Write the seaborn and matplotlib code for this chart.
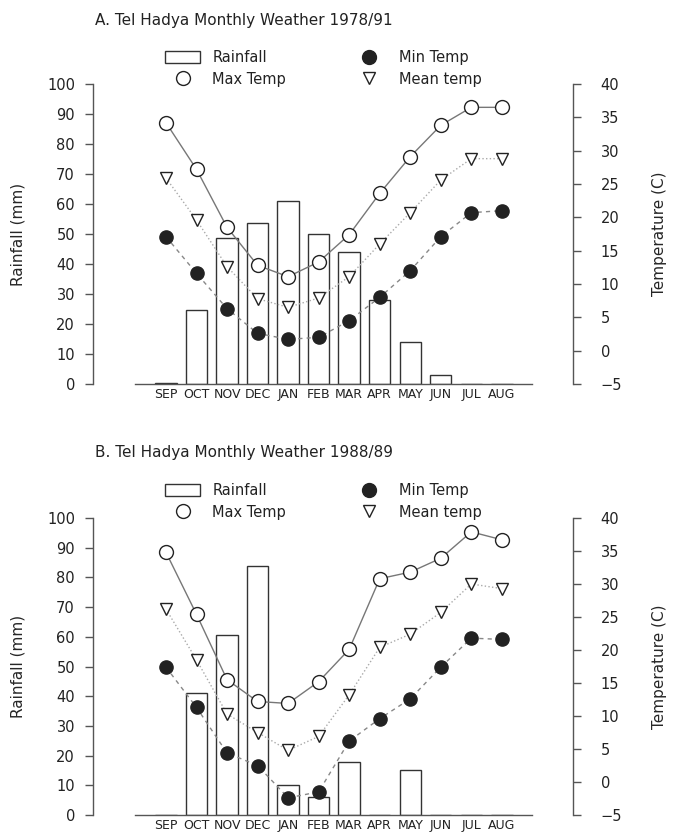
import matplotlib
matplotlib.use("Agg")
import matplotlib.pyplot as plt
from matplotlib.patches import Patch
from matplotlib.lines import Line2D
import seaborn as sns
import numpy as np

months = ["SEP", "OCT", "NOV", "DEC", "JAN", "FEB", "MAR", "APR", "MAY", "JUN", "JUL", "AUG"]

# A. 1978/91 long-term means
rain_a = [0.4, 24.5, 48.5, 53.5, 61.0, 50.0, 44.0, 28.0, 14.0, 3.0, 0.0, 0.0]
tmax_a = [34.2, 27.2, 18.5, 12.8, 11.1, 13.3, 17.4, 23.6, 29.1, 33.8, 36.5, 36.5]
tmean_a = [25.9, 19.6, 12.6, 7.8, 6.5, 7.9, 11.1, 16.0, 20.7, 25.6, 28.8, 28.8]
tmin_a = [17.1, 11.6, 6.3, 2.6, 1.7, 2.0, 4.5, 8.0, 12.0, 17.1, 20.7, 21.0]

# B. 1988/89 season
rain_b = [0.0, 41.0, 60.6, 84.0, 10.0, 6.0, 17.8, 0.0, 15.0, 0.0, 0.0, 0.0]
tmax_b = [34.8, 25.4, 15.5, 12.2, 11.9, 15.2, 20.1, 30.8, 31.8, 33.9, 37.9, 36.7]
tmean_b = [26.2, 18.5, 10.3, 7.5, 4.8, 6.9, 13.2, 20.4, 22.4, 25.7, 30.0, 29.3]
tmin_b = [17.4, 11.3, 4.4, 2.5, -2.4, -1.5, 6.2, 9.6, 12.6, 17.4, 21.8, 21.6]

sns.set_style("ticks")
plt.rcParams['font.family'] = ['DejaVu Sans']
plt.rcParams['text.color'] = '#222222'
plt.rcParams['xtick.color'] = '#555555'
plt.rcParams['ytick.color'] = '#555555'
plt.rcParams['xtick.labelcolor'] = '#222222'
plt.rcParams['ytick.labelcolor'] = '#222222'

W, H = 673, 838
fig = plt.figure(figsize=(W / 100, H / 100), dpi=100)

MS = 10


def drawPanel(axRect, title, titleY, legTop, rain, tmax, tmean, tmin):
    ax = fig.add_axes(axRect)
    xpos = np.arange(len(months))

    sns.barplot(x=months, y=rain, color="white", saturation=1, width=0.7,
                edgecolor="#333333", linewidth=1.0, ax=ax, zorder=2)
    ax.set_ylim(0, 100)
    ax.set_yticks(range(0, 101, 10))
    ax.set_xlim(-2.39, 13.33)
    ax.spines['top'].set_visible(False)
    ax.spines['right'].set_visible(False)
    ax.spines['bottom'].set_bounds(-1, 12)
    for s in ['left', 'bottom']:
        ax.spines[s].set_color('#555555')
        ax.spines[s].set_linewidth(1.0)
    ax.tick_params(axis='x', length=0, labelsize=9, pad=3)
    ax.tick_params(axis='y', length=6, width=1, labelsize=10.5, pad=7)
    ax.set_xlabel('')
    ax.set_ylabel('Rainfall (mm)', fontsize=11)
    ax.yaxis.set_label_coords(-0.14, 0.5)

    ax2 = ax.twinx()
    sns.lineplot(x=xpos, y=tmax, ax=ax2, color="#777777", linewidth=1.0,
                 linestyle='-', marker='o', markersize=MS,
                 markerfacecolor='white', markeredgecolor='#222222',
                 markeredgewidth=1.0, sort=False, zorder=5)
    sns.lineplot(x=xpos, y=tmean, ax=ax2, color="#aaaaaa", linewidth=1.0,
                 linestyle=':', marker='v', markersize=MS - 1,
                 markerfacecolor='white', markeredgecolor='#222222',
                 markeredgewidth=1.0, sort=False, zorder=4)
    sns.lineplot(x=xpos, y=tmin, ax=ax2, color="#888888", linewidth=1.0,
                 linestyle=(0, (3, 3)), marker='o', markersize=MS - 0.5,
                 markerfacecolor='#222222', markeredgecolor='#222222',
                 markeredgewidth=1.0, sort=False, zorder=3)
    ax2.set_ylim(-5, 40)
    ax2.set_yticks(range(-5, 41, 5))
    ax2.set_xlim(-2.39, 13.33)
    for s in ['top', 'left', 'bottom']:
        ax2.spines[s].set_visible(False)
    ax2.spines['right'].set_color('#555555')
    ax2.spines['right'].set_linewidth(1.0)
    ax2.tick_params(axis='y', length=6, width=1, labelsize=10.5, pad=14)
    ax2.set_ylabel('Temperature (C)', fontsize=11)
    ax2.yaxis.set_label_coords(1.165, 0.5)

    handles = [
        Patch(facecolor='white', edgecolor='#333333', linewidth=1.0),
        Line2D([], [], linestyle='none', marker='o', markersize=MS,
               markerfacecolor='white', markeredgecolor='#222222'),
        Line2D([], [], linestyle='none', marker='o', markersize=MS,
               markerfacecolor='#222222', markeredgecolor='#222222'),
        Line2D([], [], linestyle='none', marker='v', markersize=MS - 1,
               markerfacecolor='white', markeredgecolor='#222222'),
    ]
    labels = ['Rainfall', 'Max Temp', 'Min Temp', 'Mean temp']
    fig.legend(handles, labels, ncol=2, loc='upper left',
               bbox_to_anchor=(165 / W, legTop), frameon=False,
               fontsize=10.5, handlelength=2.4, handleheight=0.85,
               handletextpad=0.85, columnspacing=4.5, labelspacing=0.45,
               borderpad=0, borderaxespad=0)

    fig.text(95 / W, titleY, title, fontsize=11, va='center', ha='left')
    return ax, ax2


drawPanel([93 / W, 1 - 384 / H, 480 / W, 300 / H],
          "A. Tel Hadya Monthly Weather 1978/91", 1 - 20 / H, 1 - 50 / H,
          rain_a, tmax_a, tmean_a, tmin_a)
drawPanel([93 / W, 1 - 815 / H, 480 / W, 297 / H],
          "B. Tel Hadya Monthly Weather 1988/89", 1 - 452 / H, 1 - 483 / H,
          rain_b, tmax_b, tmean_b, tmin_b)

fig.savefig("out.png", dpi=100)
